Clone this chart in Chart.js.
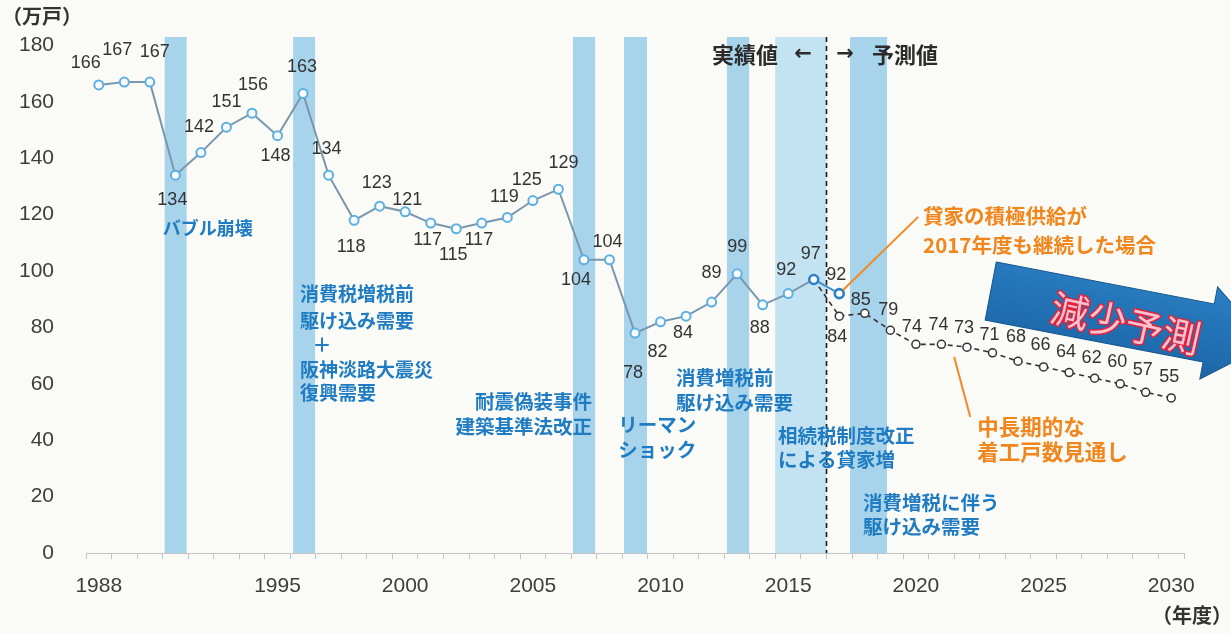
<!DOCTYPE html>
<html><head><meta charset="utf-8">
<script src="https://cdn.jsdelivr.net/npm/chart.js@4.4.1/dist/chart.umd.min.js"></script>
<style>html,body{margin:0;padding:0;background:#fafaf7;overflow:hidden}</style>
</head><body>
<canvas id="c" width="1231" height="633" style="display:block;width:1231px;height:633px"></canvas>
<script>
// ---------- DATA ----------
const years = ['1988','1989','1990','1991','1992','1993','1994','1995','1996','1997','1998','1999','2000',
  '2001','2002','2003','2004','2005','2006','2007','2008','2009','2010','2011','2012','2013','2014','2015',
  '2016','2017','2018','2019','2020','2021','2022','2023','2024','2025','2026','2027','2028','2029','2030'];
// 実績値 1988-2016
const actualValues = [166,167,167,134,142,151,156,148,163,134,118,123,121,117,115,117,119,125,129,104,104,
  78,82,84,89,99,88,92,97];
// 中長期的な着工戸数見通し 2016-2030
const forecastValues = [97,84,85,79,74,74,73,71,68,66,64,62,60,57,55];
// 貸家の積極供給が2017年度も継続した場合 2016-2017
const continuedValues = [97,92];
const tickYears = ['1988','1995','2000','2005','2010','2015','2020','2025','2030'];
const yTicks = [0,20,40,60,80,100,120,140,160,180];
// shaded event periods (fiscal years)
const bandStarts = [1990.58,1995.61,2006.57,2008.57,2012.6,2014.49,2017.42];
const bandEnds   = [1991.44,1996.47,2007.44,2009.47,2013.47,2016.5,2018.87];
const dividerYear = 2016.5;

// ---------- LAYOUT (label offsets in px, relative to points) ----------
const actualLabelOffsets = [[-13,-22],[-7,-32],[5,-30],[-3,25],[-2,-26],[0,-25],[1,-28],[-2,20],[-1,-26],[-2,-26],
  [-3,27],[-3,-23],[2,-12],[-3,17],[-3,26],[-3,17],[-3,-20],[-6,-21],[5,-26],[-8,20],
  [-2,-18],[-2,40],[-3,30],[-3,17],[0,-29],[0,-27],[-3,23],[-2,-24],[-3,-25]];
const continuedLabelOffsets = [null,[-3,-19]];
const forecastLabelOffsets = [null,[-2,21],[-4,-13],[-2,-20],[-4,-17],[-3,-19],[-3,-19],[-3,-18],[-2,-24],
  [-3,-22],[-3,-21],[-3,-20],[-3,-22],[-3,-22],[-2,-21]];

const BLUE = '#1f7cc2', ORANGE = '#f0861c', DARK = '#2b2b2b';
const JP = '"Noto Sans CJK JP"';
const notes = [
  {t:'バブル崩壊', x:1990.51, y:115.3, c:BLUE, s:18},
  {t:'消費税増税前', x:1995.88, y:91.9, c:BLUE, s:19},
  {t:'駆け込み需要', x:1995.88, y:82.3, c:BLUE, s:19},
  {t:'＋', x:1996.74, y:73.8, c:BLUE, s:19, a:'center'},
  {t:'阪神淡路大震災', x:1995.88, y:65.0, c:BLUE, s:19},
  {t:'復興需要', x:1995.88, y:56.7, c:BLUE, s:19},
  {t:'耐震偽装事件', x:2007.32, y:53.6, c:BLUE, s:19.5, a:'right'},
  {t:'建築基準法改正', x:2007.32, y:45.0, c:BLUE, s:19.5, a:'right'},
  {t:'リーマン', x:2008.34, y:45.4, c:BLUE, s:19.5},
  {t:'ショック', x:2008.34, y:36.5, c:BLUE, s:19.5},
  {t:'消費増税前', x:2010.61, y:62.1, c:BLUE, s:19.5},
  {t:'駆け込み需要', x:2010.61, y:53.2, c:BLUE, s:19.5},
  {t:'相続税制度改正', x:2014.6, y:41.5, c:BLUE, s:19.5},
  {t:'による貸家増', x:2014.6, y:33.0, c:BLUE, s:19.5},
  {t:'消費増税に伴う', x:2017.93, y:17.7, c:BLUE, s:19.5},
  {t:'駆け込み需要', x:2017.93, y:9.2, c:BLUE, s:19.5},
  {t:'貸家の積極供給が', x:2020.28, y:119.5, c:ORANGE, s:20.5},
  {t:'2017年度も継続した場合', x:2020.28, y:109.2, c:ORANGE, s:20.5},
  {t:'中長期的な', x:2022.4, y:44.7, c:ORANGE, s:21.5},
  {t:'着工戸数見通し', x:2022.4, y:35.8, c:ORANGE, s:21.5},
  {t:'実績値', x:2014.6, y:176.6, c:DARK, s:22, a:'right'},
  {t:'予測値', x:2018.28, y:176.6, c:DARK, s:22},
];

// ---------- build library data ----------
const firstForecast = years.indexOf('2016');
const actualFull = years.map((y,i)=> i < actualValues.length ? actualValues[i] : null);
const forecastFull = years.map((y,i)=> i >= firstForecast && i-firstForecast < forecastValues.length ? forecastValues[i-firstForecast] : null);
const continuedFull = years.map((y,i)=> i >= firstForecast && i-firstForecast < continuedValues.length ? continuedValues[i-firstForecast] : null);

const X = (chart, yr) => chart.scales.x.getPixelForValue(yr - 1988);
const Y = (chart, v) => chart.scales.y.getPixelForValue(v);

const bgPlugin = {
  id:'bg',
  beforeDraw(chart){
    const c = chart.ctx; c.save(); c.fillStyle = '#fafaf7'; c.fillRect(0,0,chart.width,chart.height); c.restore();
  }
};

const bandPlugin = {
  id:'bands',
  beforeDatasetsDraw(chart){
    const c = chart.ctx, a = chart.chartArea;
    c.save();
    bandStarts.forEach((s,i)=>{
      const x1 = X(chart,s), x2 = X(chart,bandEnds[i]);
      c.fillStyle = (bandEnds[i]-s > 1.8) ? '#c3e2f2' : '#a7d3eb';
      c.fillRect(x1, a.top, x2-x1, Y(chart,0)-a.top);
    });
    const xd = X(chart, dividerYear);
    c.strokeStyle = '#1a1a1a'; c.lineWidth = 1.6; c.setLineDash([5,4]);
    c.beginPath(); c.moveTo(xd, a.top); c.lineTo(xd, Y(chart,0)); c.stroke();
    c.restore();
  }
};

const annPlugin = {
  id:'ann',
  afterDatasetsDraw(chart){
    const c = chart.ctx;
    c.save();
    c.font = '18px "Liberation Sans", Arial, sans-serif';
    c.fillStyle = '#333'; c.textAlign = 'center'; c.textBaseline = 'middle';
    const drawLabels = (dsIndex, offs, startIdx, vals) => {
      const meta = chart.getDatasetMeta(dsIndex);
      vals.forEach((v,k)=>{
        const o = offs[k]; if(!o) return;
        const p = meta.data[startIdx+k];
        c.fillText(String(v), p.x + o[0], p.y + o[1]);
      });
    };
    drawLabels(0, actualLabelOffsets, 0, actualValues);
    drawLabels(2, forecastLabelOffsets, firstForecast, forecastValues);
    drawLabels(1, continuedLabelOffsets, firstForecast, continuedValues);

    c.strokeStyle = '#f08a24'; c.lineWidth = 2;
    c.beginPath(); c.moveTo(X(chart,2017.15), Y(chart,93.3)); c.lineTo(X(chart,2020.09), Y(chart,119.2)); c.stroke();
    c.beginPath(); c.moveTo(X(chart,2021.5), Y(chart,69.5)); c.lineTo(X(chart,2022.13), Y(chart,48.2)); c.stroke();

    notes.forEach(n=>{
      c.font = 'bold ' + n.s + 'px ' + JP;
      c.fillStyle = n.c; c.textAlign = n.a || 'left'; c.textBaseline = 'middle';
      c.fillText(n.t, X(chart,n.x), Y(chart,n.y));
    });
    c.font = 'bold 21px "DejaVu Sans", sans-serif'; c.fillStyle = DARK; c.textAlign = 'center';
    c.fillText('←', X(chart,2015.58), Y(chart,176.6));
    c.fillText('→', X(chart,2017.23), Y(chart,176.6));

    const ax = X(chart,2022.93), ay = Y(chart,92.9);
    c.translate(ax, ay); c.rotate(0.19);
    const g = c.createLinearGradient(0,-46,0,46);
    g.addColorStop(0,'#2a7fc2'); g.addColorStop(1,'#1b66a8');
    c.fillStyle = g;
    c.beginPath();
    c.moveTo(0,-29.5); c.lineTo(222,-29.5); c.lineTo(222,-47); c.lineTo(282,0);
    c.lineTo(222,47); c.lineTo(222,29.5); c.lineTo(0,29.5); c.closePath();
    c.fill();
    c.strokeStyle = '#17578f'; c.lineWidth = 1; c.stroke();
    c.rotate(0.03);
    c.font = '38px ' + JP; c.textAlign = 'center'; c.textBaseline = 'middle';
    c.lineJoin = 'round';
    c.strokeStyle = '#e5203a'; c.lineWidth = 3; c.strokeText('減少予測', 139, 2);
    c.fillStyle = '#f7c3d2'; c.fillText('減少予測', 139, 2);
    c.restore();

    c.save();
    c.font = 'bold 20px ' + JP; c.fillStyle = '#333'; c.textBaseline = 'middle'; c.textAlign = 'left';
    c.fillText('（万戸）', 2, 16);
    c.fillText('（年度）', 1152, 615);
    c.restore();
  }
};

new Chart(document.getElementById('c'), {
  type:'line',
  data:{
    labels: years,
    datasets:[
      { label:'実績値', data: actualFull, order:0, tension:0,
        borderColor:'#7a97ae', borderWidth:2,
        pointRadius:4.5, pointBackgroundColor:'#f8fcff',
        pointBorderColor: years.map((y,i)=> i===firstForecast ? '#2c80c4' : '#5db0df'),
        pointBorderWidth: years.map((y,i)=> i===firstForecast ? 2.6 : 2) },
      { label:'継続した場合', data: continuedFull, order:1, tension:0,
        borderColor:'#3b8ed0', borderWidth:2,
        pointRadius: years.map((y,i)=> i===firstForecast ? 0 : 4.5),
        pointBackgroundColor:'#f8fcff', pointBorderColor:'#2c80c4', pointBorderWidth:2.6 },
      { label:'見通し', data: forecastFull, order:2, tension:0,
        borderColor:'#333', borderWidth:1.6, borderDash:[5,4],
        pointRadius: years.map((y,i)=> i===firstForecast ? 0 : 4),
        pointBackgroundColor:'#ffffff', pointBorderColor:'#333', pointBorderWidth:1.5 }
    ]
  },
  options:{
    responsive:false, animation:false, devicePixelRatio:1,
    layout:{padding:{top:37,right:47,left:0,bottom:0}},
    plugins:{legend:{display:false}, tooltip:{enabled:false}},
    scales:{
      x:{
        type:'category', offset:true,
        grid:{display:true, drawOnChartArea:false, drawTicks:true, tickLength:6, color:'#c4c4c4', offset:true},
        border:{display:true, color:'#c4c4c4', width:1},
        ticks:{autoSkip:false, maxRotation:0, minRotation:0, padding:15,
          font:{family:'"Liberation Sans", Arial, sans-serif', size:21}, color:'#3d3d3d',
          callback:(v,i)=> tickYears.includes(years[i]) ? years[i] : ''},
        afterFit:(s)=>{ s.height = 80; }
      },
      y:{
        min:0, max:183,
        grid:{display:true, drawOnChartArea:false, drawTicks:true, tickLength:28, tickColor:'rgba(0,0,0,0)'},
        border:{display:false},
        ticks:{stepSize:20, padding:4, font:{family:'"Liberation Sans", Arial, sans-serif', size:21}, color:'#3d3d3d'},
        afterBuildTicks:(s)=>{ s.ticks = yTicks.map(v=>({value:v})); },
        afterFit:(s)=>{ s.width = 86; }
      }
    }
  },
  plugins:[bgPlugin, bandPlugin, annPlugin]
});
</script>
</body></html>
